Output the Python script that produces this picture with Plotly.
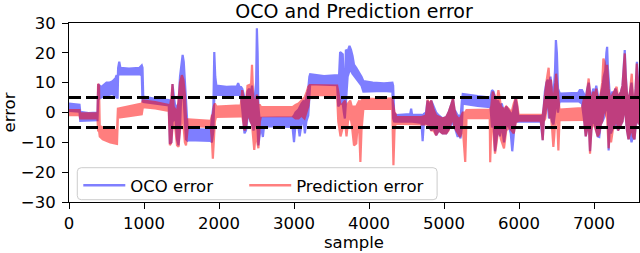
import plotly.graph_objects as go

# ---------------- data ----------------
# OCO error: sample position with lower / upper edge of the noisy band
oco_sample = [0, 70, 140, 150, 260, 380, 390, 430, 470, 500, 540, 580, 620, 635, 648,
              655, 670, 685, 800, 940, 970, 980, 990, 1150, 1330,
              1345, 1365, 1380, 1400, 1420, 1440, 1460, 1480, 1500, 1515, 1530, 1545, 1560, 1580, 1590,
              1890, 1905, 1925, 1937, 1950, 1965, 2100, 2240, 2255, 2275, 2295,
              2310, 2325, 2340, 2360, 2380, 2400, 2420, 2440, 2460, 2480, 2495, 2505, 2515, 2525, 2540, 2560, 2585, 2600,
              2800, 2980, 3000, 3020, 3060, 3075, 3100, 3130, 3145, 3165, 3190, 3205, 3215,
              3400, 3575, 3590, 3600, 3615, 3650, 3665, 3678, 3692, 3715, 3740, 3760, 3780, 3800, 3830, 3870, 3900, 3925, 4050, 4200, 4312,
              4322, 4335, 4360, 4550, 4562, 4575, 4700, 4715, 4730, 4760, 4780, 4800, 4830, 4860, 4895, 4930, 4980, 5030, 5060, 5100, 5120, 5140, 5160, 5183, 5200, 5220, 5238, 5250,
              5450, 5620, 5640, 5660, 5680, 5700, 5720, 5745, 5770, 5800, 5830, 5860, 5890, 5910, 5935, 5955, 5975, 5990, 6290,
              6305, 6316, 6330, 6345, 6365, 6383, 6400, 6420, 6440, 6460, 6480, 6492, 6505, 6520, 6535, 6545, 6790, 6810, 6840,
              6850, 6870, 6890, 6910, 6930, 6947, 6970, 6990, 7010, 7030, 7050, 7070, 7090, 7110, 7130, 7150, 7165, 7175, 7185, 7195,
              7210, 7225, 7245, 7265, 7285, 7300, 7320, 7340, 7360, 7380, 7395, 7410, 7425, 7440, 7460, 7480, 7500, 7520, 7540, 7555, 7572, 7585, 7598]
oco_low = [0.5, 0.3, 0.3, -2.8, -2.8, -2.6, 4.5, 5.0, 5.5, 5.8, 6.0, 6.2, 5.5, 5.0, 5.0,
           12.5, 12.8, 12.7, 12.8, 12.8, 12.5, 3.8, 3.5, 3.0, 2.4,
           -10.5, -10.0, -3.0, -2.5, -2.0, -9.0, -11.0, -5.0, 8.0, 10.0, 4.0, -4.0, -9.0, -9.5, -9.3,
           -9.5, -10.0, -6.0, 5.0, 6.0, 5.8, 5.9, 6.0, 6.0, 5.8, 5.0,
           1.0, -3.0, -7.0, -6.0, -2.0, -1.0, -3.0, -4.0, -6.0, -4.0, -2.0, -3.0, -6.0, -11.0, -8.0, -4.6, -8.2, -4.6,
           -4.6, -4.8, -9.9, -4.0, -5.0, -8.0, -4.0, -3.0, -7.0, -3.0, -1.0, 5.0, 9.5,
           9.4, 9.2, 2.0, 2.0, 3.0, 3.0, 0.0, -2.0, 5.0, 12.0, 14.0, 14.0, 13.0, 12.0, 11.0, 10.0, 9.0, 7.0, 7.0, 7.2, 7.0,
           -2.0, -3.0, -3.1, -3.0, -3.0, -3.0, -3.5, -9.6, -4.0, -3.5, -4.0, -4.0, -6.0, -5.0, -7.6, -6.0, -7.0, -7.0, -6.0, -4.0, -3.0, -5.0, -6.0, -8.2, -7.0, -8.7, -5.0, 3.0,
           2.2, 1.8, -5.0, -3.0, -13.0, -10.0, -5.0, -8.0, -4.0, -10.0, -5.0, -4.0, -7.0, -13.0, -6.0, -3.0, -3.0, -3.1, -3.1,
           -6.0, -9.3, -3.0, -2.0, 2.0, 3.0, -2.0, 0.0, -3.0, -4.0, 0.0, 5.0, 3.0, 0.0, 3.0, 3.7, 3.8, 3.5, 3.0,
           2.0, -3.0, -8.0, -5.0, -3.0, -13.0, -4.0, -2.0, -4.0, -6.0, -8.0, -8.2, -4.0, -3.0, -2.0, 0.0, 2.0, 3.0, 0.0, -12.7,
           -5.0, -7.0, -6.0, -4.0, -5.0, -3.0, -6.0, -5.0, -4.0, -3.0, 0.0, 2.0, -2.0, -6.0, -9.0, -7.0, -10.0, -8.0, -9.0, -5.0, 0.0, -3.0, -4.0]
oco_high = [3.0, 2.8, 2.6, 0.2, -0.2, 0.0, 9.5, 8.5, 9.5, 10.0, 10.0, 10.5, 11.5, 12.5, 10.0,
            15.0, 17.0, 15.0, 14.7, 15.0, 15.8, 15.0, 5.3, 4.6, 4.2,
            4.0, 3.0, 9.5, 5.0, 1.5, 2.0, 3.0, 12.0, 16.0, 19.3, 17.0, 10.0, 2.0, -4.5, -5.5,
            -5.8, -2.0, 2.0, 20.3, 12.0, 9.0, 8.6, 8.8, 9.8, 8.5, 8.5,
            8.0, 6.0, 5.0, 3.0, 7.0, 8.0, 6.0, 9.0, 4.0, 6.0, 10.0, 28.2, 20.0, 2.0, -2.0, -1.8, -1.8, -1.8,
            -1.8, -1.6, -1.0, 0.0, 1.0, 2.0, 3.0, 4.0, 3.0, 5.0, 8.0, 12.0, 12.8,
            12.2, 12.5, 10.0, 12.0, 20.3, 19.5, 8.0, 7.0, 21.0, 20.5, 22.3, 21.0, 19.0, 16.0, 15.0, 13.5, 12.0, 10.5, 10.0, 9.8, 10.0,
            9.0, 0.0, -0.9, -0.5, 1.3, -0.8, -0.8, -1.0, -0.5, 0.0, 4.0, 2.0, 4.0, 2.0, 0.0, -1.0, -2.0, -1.5, 0.0, 3.0, 4.5, 1.0, 0.0, -1.0, -1.0, -2.0, 4.0, 6.2,
            5.5, 5.0, 7.5, 7.0, 5.0, 3.0, 4.0, 2.0, 3.0, 0.0, 2.0, 1.0, 0.0, -1.0, 2.0, 4.5, 2.0, -1.2, -1.2,
            -1.0, -1.0, 2.0, 7.0, 10.0, 11.0, 9.0, 12.0, 8.0, 6.0, 14.0, 24.3, 20.0, 8.0, 7.0, 6.3, 6.6, 7.5, 7.5,
            7.0, 6.0, 5.0, 8.0, 10.0, 7.0, 5.0, 8.0, 6.0, 9.0, 5.0, 3.0, 6.0, 8.0, 12.0, 14.0, 20.0, 22.0, 15.0, 10.0,
            6.0, 5.0, 7.0, 6.0, 8.0, 7.0, 5.0, 6.0, 7.0, 9.0, 14.0, 20.9, 12.0, 6.0, 4.0, 7.0, 10.0, 5.0, 3.0, 8.0, 17.0, 12.0, 5.0]

# Prediction error: sample position with lower / upper edge of the noisy band
pred_sample = [0, 140, 150, 380, 388, 400, 410, 450, 550, 640, 652, 800, 970, 985, 1150, 1330,
               1345, 1365, 1380, 1395, 1420, 1440, 1460, 1480, 1505, 1525, 1545, 1560, 1580, 1590, 1890,
               1905, 1918, 1930, 1945, 1960, 1965, 2290, 2310, 2325, 2340, 2360, 2380, 2400, 2420, 2440, 2455, 2470, 2490, 2505, 2525, 2545, 2560, 2980,
               3020, 3060, 3100, 3140, 3170, 3190, 3210, 3575, 3590, 3620, 3650, 3680, 3700, 3720, 3750, 3770, 3800, 3830, 3850, 3870, 3885, 3900, 3925, 4100, 4310,
               4326, 4340, 4355, 4360, 4700, 4760, 4780, 4800, 4830, 4860, 4895, 4930, 4980, 5030, 5060, 5100, 5120, 5140, 5160, 5190, 5215, 5250, 5283, 5300, 5310, 5610,
               5616, 5630, 5650, 5680, 5700, 5725, 5760, 5800, 5830, 5870, 5900, 5930, 5960, 5980, 5995, 6290,
               6305, 6316, 6330, 6350, 6370, 6395, 6410, 6425, 6440, 6458, 6470, 6485, 6495, 6510, 6525, 6540, 6840,
               6850, 6870, 6890, 6910, 6929, 6947, 6965, 6990, 7010, 7030, 7050, 7070, 7090, 7110, 7125, 7140, 7160, 7175, 7195, 7210,
               7227, 7250, 7270, 7290, 7302, 7320, 7340, 7360, 7380, 7395, 7410, 7425, 7440, 7460, 7480, 7503, 7520, 7540, 7555, 7570, 7585, 7598]
pred_low = [-0.9, -0.9, -2.0, -2.0, -6.0, -6.0, -8.0, -9.0, -10.0, -10.5, -1.7, -1.2, -0.6, 1.8, 1.4, 0.5,
            -11.0, -10.0, -5.0, -3.0, -6.0, -11.0, -11.5, -6.0, -2.0, -4.0, -10.0, -11.0, -6.0, -4.5, -4.8,
            -9.0, -15.5, -12.0, -3.0, -1.5, -1.7, -1.3, -1.0, -4.0, -6.0, -5.0, -1.0, -1.0, -3.0, -4.0, -9.3, -12.5, -7.0, -8.0, -12.0, -3.0, -1.2, -1.2,
            -2.0, -2.0, -1.0, -2.0, 0.0, 2.0, 5.8, 5.9, -3.0, -8.0, -5.0, -3.0, -8.0, -3.0, -1.0, -4.0, -11.0, -10.4, -4.0, -6.0, -16.6, -6.0, 1.3, 1.3, 1.2,
            -17.7, -6.0, -3.7, -3.7, -4.0, -4.0, -4.0, -5.0, -6.0, -6.0, -7.6, -6.0, -7.0, -7.0, -6.0, -3.0, -2.0, -5.0, -6.0, -7.0, -8.2, -5.0, -16.6, -2.0, -1.9, -1.9,
            -16.7, -5.0, -4.0, -13.8, -10.4, -5.0, -9.0, -12.0, -6.0, -5.0, -6.0, -7.0, -3.0, -3.0, -2.7, -2.7,
            -6.0, -9.3, -3.0, -2.0, 2.0, 3.0, -2.0, -1.0, -5.0, -11.5, -8.0, -2.0, 0.0, -3.0, -12.7, -2.6, -2.5,
            -2.0, -3.0, -8.0, -5.0, -3.0, -13.8, -6.0, -3.0, -5.0, -6.0, -8.0, -7.0, -4.0, -3.0, 0.0, 2.0, -1.0, -2.0, -12.0, -7.0,
            -10.0, -6.0, -4.0, -3.0, -2.0, -6.0, -5.0, -4.0, -3.0, 0.0, 2.0, -2.0, -6.0, -9.0, -7.0, -5.0, -8.0, -9.0, -5.0, 0.0, -3.0, -4.0]
pred_high = [0.8, 0.8, -0.3, -0.3, 9.6, 9.0, -4.5, -5.0, -5.5, -6.0, 1.3, 2.0, 3.0, 4.0, 3.5, 2.5,
             2.0, 5.0, 9.5, 2.0, 1.0, 0.0, 4.0, 10.0, 12.5, 11.0, 6.0, -2.0, -2.5, -2.3, -2.8,
             -1.0, -1.0, 2.0, 3.0, 2.5, 2.0, 2.4, 7.5, 5.0, 4.0, 3.0, 9.0, 9.2, 5.0, 16.0, 6.0, 3.0, 4.0, 6.0, 2.5, 2.5, 1.8, 1.8,
             2.5, 3.0, 4.0, 5.0, 7.0, 8.6, 9.2, 9.0, 7.0, 2.0, 3.0, 4.0, 1.0, 3.0, 4.0, 2.0, 2.0, 2.0, 3.0, 4.0, 3.0, 4.0, 4.7, 4.5, 4.7,
             2.0, 0.0, -0.5, -1.5, -1.5, -1.0, 4.2, 3.0, 4.0, 1.0, -1.0, -1.5, -2.0, -1.5, 0.0, 3.0, 4.7, 1.0, -1.0, -2.0, -2.0, 0.0, 0.0, 0.8, 0.8, 0.8,
             1.0, 2.0, 7.0, 5.2, 3.0, 7.5, 2.0, 1.0, 2.0, 1.0, 0.0, 3.0, 5.2, 2.0, -0.8, -0.8,
             -1.0, -1.0, 2.0, 8.0, 11.0, 15.0, 9.0, 11.0, 6.0, 4.0, 6.0, 10.0, 13.0, 8.0, 3.0, 1.0, 1.5,
             3.0, 5.0, 4.0, 8.0, 11.4, 6.0, 4.0, 7.0, 5.0, 8.0, 4.0, 3.0, 6.0, 10.0, 18.1, 17.0, 13.0, 16.0, 8.0, 5.0,
             5.0, 6.0, 7.0, 8.0, 8.6, 5.0, 6.0, 7.0, 9.0, 14.0, 19.8, 11.0, 6.0, 4.0, 7.0, 13.0, 5.0, 3.0, 8.0, 16.4, 10.0, 5.0]

thresholds = [5, -5]
x_ticks = [0, 1000, 2000, 3000, 4000, 5000, 6000, 7000]
y_ticks = [-30, -20, -10, 0, 10, 20, 30]
x_range = [0, 7600]
y_range = [-30, 30]

assert len(oco_sample) == len(oco_low) == len(oco_high), (len(oco_sample), len(oco_low), len(oco_high))
assert len(pred_sample) == len(pred_low) == len(pred_high), (len(pred_sample), len(pred_low), len(pred_high))

FONT = "DejaVu Sans"
fig = go.Figure()


def band(xs, lo, hi, color):
    return go.Scatter(
        x=list(xs) + list(xs)[::-1],
        y=list(hi) + list(lo)[::-1],
        mode="lines", fill="toself", fillcolor=color,
        line=dict(color=color, width=2.2),
        opacity=0.5, showlegend=False, hoverinfo="skip",
    )


fig.add_trace(band(oco_sample, oco_low, oco_high, "#0000ff"))
fig.add_trace(band(pred_sample, pred_low, pred_high, "#ff0000"))

# legend entries (two side-by-side legends inside one framed box)
fig.add_trace(go.Scatter(x=[None], y=[None], mode="lines", name="OCO error", legend="legend",
                         line=dict(color="#0000ff", width=2.5), opacity=0.5))
fig.add_trace(go.Scatter(x=[None], y=[None], mode="lines", name="Prediction error", legend="legend2",
                         line=dict(color="#ff0000", width=2.5), opacity=0.5))

for t in thresholds:
    fig.add_shape(type="line", xref="paper", x0=0, x1=1, yref="y", y0=t, y1=t,
                  line=dict(color="black", width=3, dash="12px,5px"), layer="above")

# legend frame (rounded rectangle, paper coordinates)
PW, PH = 570.3, 179.0
L, R, B, T = 0.01455, 0.6458, 0.0128, 0.1916
rx, ry = 4 / PW, 4 / PH
frame = (f"M{L + rx},{B} L{R - rx},{B} Q{R},{B} {R},{B + ry} L{R},{T - ry} Q{R},{T} {R - rx},{T} "
         f"L{L + rx},{T} Q{L},{T} {L},{T - ry} L{L},{B + ry} Q{L},{B} {L + rx},{B} Z")
fig.add_shape(type="path", path=frame, xref="paper", yref="paper",
              fillcolor="rgba(255,255,255,0.8)", line=dict(color="#cccccc", width=1), layer="above")

axis_common = dict(showline=True, linecolor="black", linewidth=1, mirror=True,
                   ticks="outside", ticklen=6, tickwidth=1, tickcolor="black",
                   showgrid=False, zeroline=False, automargin=False,
                   tickfont=dict(family=FONT, size=16.5, color="black"))

fig.update_xaxes(range=x_range, tickvals=x_ticks,
                 title=dict(text="sample", font=dict(family=FONT, size=16.5, color="black"), standoff=2),
                 **axis_common)
fig.update_yaxes(range=y_range, tickvals=y_ticks, ticklabelstandoff=3,
                 title=dict(text="error", font=dict(family=FONT, size=16.5, color="black"), standoff=4),
                 **axis_common)

legend_common = dict(orientation="h", y=0.19, xanchor="left", yanchor="top", itemwidth=42,
                     bgcolor="rgba(0,0,0,0)", borderwidth=0,
                     font=dict(family=FONT, size=16.5, color="black"))

fig.update_layout(
    width=640, height=253,
    margin=dict(l=69, r=1, t=23, b=51, pad=0),
    plot_bgcolor="white", paper_bgcolor="white",
    font=dict(family=FONT, size=16.5, color="black"),
    title=dict(text="OCO and Prediction error", x=354 / 640, xanchor="center",
               xref="container", yref="container", y=1 - 11.4 / 253, yanchor="middle",
               font=dict(family=FONT, size=19, color="black"), automargin=False),
    legend=dict(x=(78 - 68.7) / PW, **legend_common),
    legend2=dict(x=(244 - 68.7) / PW, **legend_common),
    showlegend=True,
)

fig.write_html("out.html", config={"displayModeBar": False},
               post_script="document.body.style.margin='0';document.body.style.padding='0';")
